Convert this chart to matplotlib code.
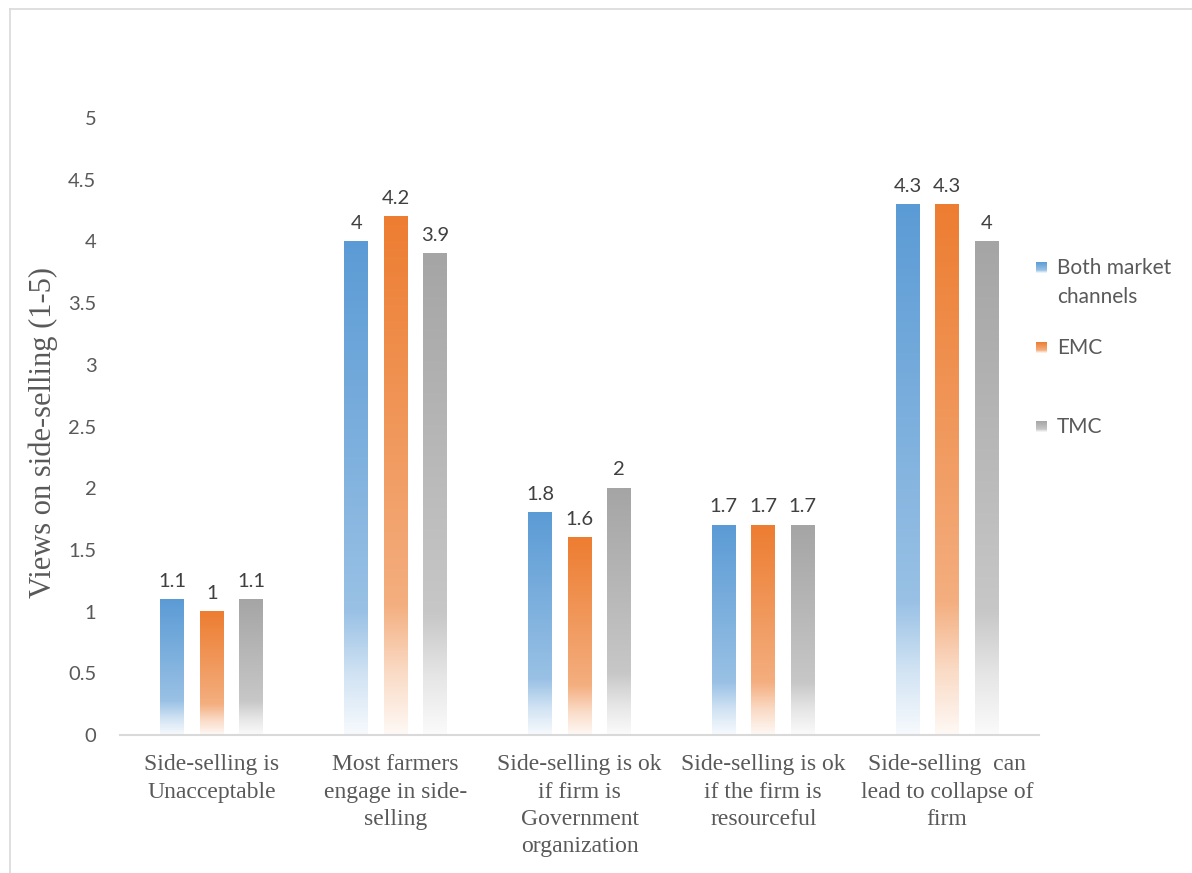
import numpy as np
import matplotlib
matplotlib.use("Agg")
import matplotlib.pyplot as plt
from matplotlib.colors import to_rgb
from matplotlib.lines import Line2D

categories = [
    "Side-selling is\nUnacceptable",
    "Most farmers\nengage in side-\nselling",
    "Side-selling is ok\nif firm is\nGovernment\norganization",
    "Side-selling is ok\nif the firm is\nresourceful",
    "Side-selling  can\nlead to collapse of\nfirm",
]
series_names = ["Both market\nchannels", "EMC", "TMC"]
both_values = [1.1, 4.0, 1.8, 1.7, 4.3]
emc_values = [1.0, 4.2, 1.6, 1.7, 4.3]
tmc_values = [1.1, 3.9, 2.0, 1.7, 4.0]
series_values = [both_values, emc_values, tmc_values]
series_colors = ["#5B9BD5", "#ED7D31", "#A5A5A5"]
yticks = [0, 0.5, 1, 1.5, 2, 2.5, 3, 3.5, 4, 4.5, 5]

W, H = 1192, 873
fig = plt.figure(figsize=(W / 100, H / 100), dpi=100)
ax = fig.add_axes([120 / W, 1 - 735 / H, (1039 - 120) / W, (735 - 118) / H])

TXT = "#595959"
SANS = ["Lato", "DejaVu Sans"]
SERIF = ["Liberation Serif", "DejaVu Serif"]

# gradient profile: (fraction from bottom, white mix)
stops_pos = np.array([0.0, 0.12, 0.25, 0.6, 1.0])
stops_mix = np.array([0.95, 0.72, 0.38, 0.2, 0.0])


def gradient_img(color, n=200):
    c = np.array(to_rgb(color))
    t = np.linspace(0, 1, n)  # bottom->top
    mix = np.interp(t, stops_pos, stops_mix)
    rgb = c[None, :] * (1 - mix[:, None]) + np.ones(3)[None, :] * mix[:, None]
    img = rgb[::-1][:, None, :]  # top row first
    return img


x = np.arange(len(categories))
width = 0.13
spacing = 0.215
for i, (vals, col) in enumerate(zip(series_values, series_colors)):
    offs = (i - 1) * spacing
    bars = ax.bar(x + offs, vals, width, color="none", edgecolor="none")
    img = gradient_img(col)
    for b, v in zip(bars, vals):
        x0 = b.get_x()
        ax.imshow(img, extent=[x0, x0 + b.get_width(), 0, v], aspect="auto",
                  interpolation="bilinear", zorder=2)
        ax.annotate(f"{v:g}", (x0 + b.get_width() / 2, v), xytext=(0, 7),
                    textcoords="offset points", ha="center", va="bottom",
                    fontsize=14.5, color="#404040", family=SANS)

ax.set_xlim(-0.5, len(categories) - 0.5)
ax.set_ylim(0, 5)
ax.set_yticks(yticks)
ax.set_yticklabels([f"{v:g}" for v in yticks], fontsize=14.5, color=TXT, family=SANS)
ax.set_xticks(x)
ax.set_xticklabels(categories, fontsize=17, color=TXT, family=SERIF, linespacing=1.38)
ax.tick_params(axis="both", length=0)
ax.tick_params(axis="y", pad=17)
ax.tick_params(axis="x", pad=14)
for s in ["top", "right", "left"]:
    ax.spines[s].set_visible(False)
ax.spines["bottom"].set_color("#D9D9D9")
ax.spines["bottom"].set_linewidth(1.5)

ax.set_ylabel("Views on side-selling (1-5)", fontsize=22, color=TXT, family=SERIF)
ax.yaxis.set_label_coords(-0.067, 0.49)

# legend (manual)
leg_y = [268, 348, 427]
for name, col, yy in zip(series_names, series_colors, leg_y):
    lax = fig.add_axes([1036 / W, 1 - (yy + 5) / H, 11 / W, 11 / H])
    lax.imshow(gradient_img(col), aspect="auto", extent=[0, 1, 0, 1])
    lax.axis("off")
    lines = name.split("\n")
    for k, ln in enumerate(lines):
        fig.text(1057 / W, 1 - (yy + 29 * k) / H, ln, fontsize=15,
                 color=TXT, family=SANS, va="center", ha="left")

# chart border
fig.add_artist(Line2D([10 / W, 1.0], [1 - 9 / H] * 2, transform=fig.transFigure,
                      color="#D9D9D9", lw=1.2))
fig.add_artist(Line2D([10 / W] * 2, [0, 1 - 9 / H], transform=fig.transFigure,
                      color="#D9D9D9", lw=1.2))

fig.savefig("out.png", dpi=100)
